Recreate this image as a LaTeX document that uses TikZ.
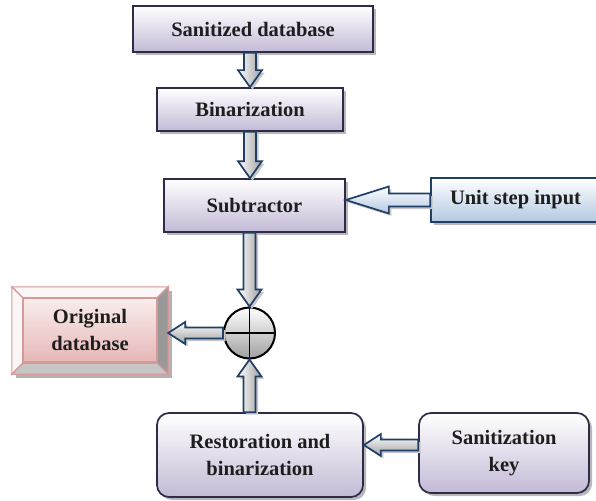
\documentclass[tikz,border=0pt]{standalone}
\usepackage{fontspec}
\setmainfont{Liberation Serif}
\usetikzlibrary{calc,shadows}

\definecolor{boxline}{HTML}{2E2A48}
\definecolor{lav}{HTML}{C3BAD6}
\definecolor{navy}{HTML}{1F3F66}
\definecolor{skyb}{HTML}{B2C8E2}
\definecolor{pinkline}{HTML}{D69A98}
\definecolor{pinkface}{HTML}{E6B8B7}
\definecolor{ink}{HTML}{1E1E1E}

\tikzset{
  % block arrow drawn as a closed outline: #1 shaft half-width, #2 head half-width, #3 head length
  blockarrow/.style n args={3}{
    to path={
      ($(\tikztostart)!#1!90:(\tikztotarget)$)
      -- ($(\tikztotarget)!#3!(\tikztostart)!#1!90:(\tikztotarget)$)
      -- ($(\tikztotarget)!#3!(\tikztostart)!#2!90:(\tikztotarget)$)
      -- (\tikztotarget)
      -- ($(\tikztotarget)!#3!(\tikztostart)!#2!-90:(\tikztotarget)$)
      -- ($(\tikztotarget)!#3!(\tikztostart)!#1!-90:(\tikztotarget)$)
      -- ($(\tikztostart)!#1!-90:(\tikztotarget)$)
      -- cycle
    }
  },
  arr/.style={draw=navy, line width=1.7pt, line join=miter,
    preaction={draw=none, fill=gray!45, transform canvas={shift={(2.5pt,-2.5pt)}}}},
  varr/.style={arr, left color=white, right color=gray!75, blockarrow={6pt}{12pt}{17pt}},
  harr/.style={arr, top color=white, bottom color=gray!75, blockarrow={5.5pt}{11pt}{17pt}},
  label/.style={font=\fontsize{20.5}{27}\selectfont\bfseries, text=ink, align=center},
  box/.style={label, draw=boxline, line width=1.7pt, top color=white, bottom color=lav,
    inner sep=0pt,
    drop shadow={shadow xshift=3pt, shadow yshift=-3pt, fill=gray!70, opacity=.8}},
  rbox/.style={box, rounded corners=12pt},
  bluebox/.style={box, draw=navy, bottom color=skyb},
}

\begin{document}
\begin{tikzpicture}[x=1pt, y=-1pt]
\useasboundingbox (0,0) rectangle (596,500);
\clip (0,0) rectangle (596,500);

% processing chain
\node[box, minimum width=240pt, minimum height=46pt] (sd) at (253,29) {Sanitized database};
\node[box, minimum width=186pt, minimum height=43pt] (bin) at (250,109.5) {Binarization};
\node[box, minimum width=181pt, minimum height=53pt] (sub) at (254.5,205.5) {Subtractor};
\node[bluebox, minimum width=169pt, minimum height=44pt] (usi) at (515.5,200) {Unit step input};

% adder
\node[circle, draw=black, line width=2pt, minimum size=51pt, inner sep=0pt,
      top color=white, bottom color=gray!75] (circ) at (249.5,333) {};
\draw[line width=1.6pt] (circ.north) -- (circ.south) (circ.west) -- (circ.east);

% restoration stage
\node[rbox, minimum width=206pt, minimum height=84pt] (rest) at (260,455) {Restoration and\\binarization};
\node[rbox, minimum width=170pt, minimum height=80pt] (key) at (504,453) {Sanitization\\key};

% bevelled output box
\node[minimum width=156pt, minimum height=87pt, inner sep=0pt] (origout) at (90,330.5) {};
\coordinate (iNW) at ([xshift=11pt, yshift=-11pt]origout.north west);
\coordinate (iNE) at ([xshift=-11pt, yshift=-11pt]origout.north east);
\coordinate (iSE) at ([xshift=-11pt, yshift=11pt]origout.south east);
\coordinate (iSW) at ([xshift=11pt, yshift=11pt]origout.south west);
\fill[gray!60] ([xshift=4pt, yshift=-4pt]origout.north west) rectangle ([xshift=4pt, yshift=-4pt]origout.south east);
\begin{scope}[draw=pinkline, line width=1.1pt, line join=miter]
  \filldraw[fill=pinkface!12] (origout.north west) -- (origout.north east) -- (iNE) -- (iNW) -- cycle;
  \filldraw[fill=pinkface!12] (origout.north west) -- (iNW) -- (iSW) -- (origout.south west) -- cycle;
  \filldraw[fill=gray!80!white] (origout.north east) -- (origout.south east) -- (iSE) -- (iNE) -- cycle;
  \filldraw[fill=gray!45] (origout.south west) -- (iSW) -- (iSE) -- (origout.south east) -- cycle;
\end{scope}
\node[label, draw=pinkline, line width=1.1pt, top color=pinkface!25, bottom color=pinkface,
      minimum width=134pt, minimum height=64pt, inner sep=0pt] (orig) at (90,330) {Original\\database};

% connectors
\coordinate (keyout) at ([yshift=8pt]key.west);
\draw[varr] (bin.north |- sd.south) to (bin.north);
\draw[varr] (bin.south) to (bin.south |- sub.north);
\draw[arr, top color=white, bottom color=skyb, blockarrow={6.5pt}{13.5pt}{43pt}] (usi.west) to (usi.west -| sub.east);
\draw[varr] (circ.north |- sub.south) to (circ.north);
\draw[harr] (circ.west) to (circ.west -| origout.east);
\draw[varr] (circ.south |- rest.north) to (circ.south);
\draw[harr] (keyout) to (keyout -| rest.east);
\end{tikzpicture}
\end{document}
